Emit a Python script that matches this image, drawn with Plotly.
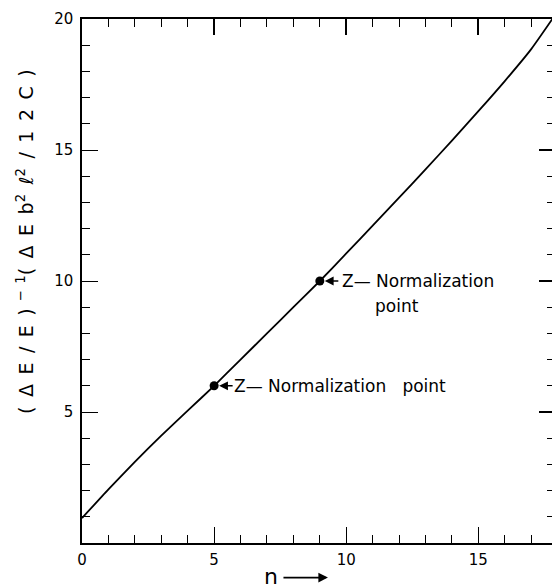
import plotly.graph_objects as go

# Curve data
n_vals = [0, 1, 2, 3, 4, 5, 6, 7, 8, 9, 10, 11, 12, 13, 14, 15, 16, 17, 17.8]
y_vals = [0.95, 2.05, 3.1, 4.1, 5.05, 6.0, 7.0, 8.0, 9.0, 10.0, 11.05, 12.11,
          13.18, 14.26, 15.36, 16.48, 17.63, 18.85, 20.0]

# Normalization points
norm_n = [5, 9]
norm_y = [6.0, 10.0]

x_ticks = [0, 5, 10, 15]
y_ticks = [5, 10, 15, 20]

FONT = "DejaVu Sans"
X_RANGE = [0, 17.9]
Y_RANGE = [0, 20]

fig = go.Figure()
fig.add_trace(go.Scatter(x=n_vals, y=y_vals, mode="lines",
                         line=dict(color="black", width=1.8, shape="spline", smoothing=0.5),
                         showlegend=False, hoverinfo="skip"))
fig.add_trace(go.Scatter(x=norm_n, y=norm_y, mode="markers",
                         marker=dict(color="black", size=9),
                         showlegend=False, hoverinfo="skip"))
# invisible traces to activate the mirrored (top/right) tick axes
fig.add_trace(go.Scatter(x=[None], y=[None], xaxis="x2", yaxis="y2", mode="markers",
                         showlegend=False, hoverinfo="skip"))
fig.add_trace(go.Scatter(x=[None], y=[None], xaxis="x3", yaxis="y3", mode="markers",
                         showlegend=False, hoverinfo="skip"))

minor_cfg = dict(dtick=1, tick0=0, ticks="inside", ticklen=8, tickwidth=1.3,
                 tickcolor="black")
main_common = dict(showgrid=False, zeroline=False, showline=True, linecolor="black",
                   linewidth=1.5, mirror=True, ticks="inside", ticklen=16,
                   tickwidth=1.3, tickcolor="black", minor=minor_cfg,
                   ticklabeloverflow="allow",
                   tickfont=dict(family=FONT, size=15, color="black"))
mirror_common = dict(showgrid=False, zeroline=False, showline=False, ticks="inside",
                     tickcolor="black", tickmode="linear", tick0=0,
                     tickfont=dict(family=FONT, size=1, color="rgba(0,0,0,0)"))

fig.update_layout(
    xaxis=dict(range=X_RANGE, tickvals=x_ticks, ticktext=[str(v) for v in x_ticks],
               ticklabelstandoff=2, **main_common),
    yaxis=dict(range=Y_RANGE, tickvals=y_ticks, ticktext=[str(v) for v in y_ticks],
               ticklabelstandoff=4, **main_common),
    # top / right: long ticks every 5
    xaxis2=dict(range=X_RANGE, dtick=5, ticklen=16, tickwidth=1.6,
                side="top", overlaying="x", **mirror_common),
    yaxis2=dict(range=Y_RANGE, dtick=5, ticklen=16, tickwidth=1.6,
                side="right", overlaying="y", **mirror_common),
    # top / right: short ticks every 1
    xaxis3=dict(range=X_RANGE, dtick=1, ticklen=8, tickwidth=1.3,
                side="top", overlaying="x", **mirror_common),
    yaxis3=dict(range=Y_RANGE, dtick=1, ticklen=8, tickwidth=1.3,
                side="right", overlaying="y", **mirror_common),
)

annotations = []
# arrows to normalization points
for nx, ny in zip(norm_n, norm_y):
    annotations.append(dict(x=nx, y=ny, xref="x", yref="y", ax=20, ay=0, text="",
                            showarrow=True, arrowhead=2, arrowsize=1.1, arrowwidth=1.6,
                            arrowcolor="black", standoff=5))
annotations.append(dict(x=5.68, y=6.0, xref="x", yref="y", xanchor="left", yanchor="middle",
                        text="Z\u2014 Normalization   point", showarrow=False,
                        font=dict(family=FONT, size=17, color="black")))
annotations.append(dict(x=9.78, y=10.0, xref="x", yref="y", xanchor="left", yanchor="middle",
                        text="Z\u2014 Normalization", showarrow=False,
                        font=dict(family=FONT, size=17, color="black")))
annotations.append(dict(x=11.0, y=9.05, xref="x", yref="y", xanchor="left", yanchor="middle",
                        text="point", showarrow=False,
                        font=dict(family=FONT, size=17, color="black")))
# y-axis label
sp = "\u2002"
ylab = (f"({sp}\u0394{sp}E{sp}/{sp}E{sp})<sup>{sp}\u2212{sp}1</sup>"
        f"({sp}\u0394{sp}E{sp}b<sup>2</sup>{sp}\u2113<sup>2</sup>"
        f"{sp}/{sp}1{sp}2{sp}C{sp})")
annotations.append(dict(x=-0.122, y=0.575, xref="paper", yref="paper",
                        xanchor="center", yanchor="middle", textangle=-90,
                        text=ylab, showarrow=False,
                        font=dict(family=FONT, size=19, color="black")))
# x-axis label
annotations.append(dict(x=0.40, y=-0.064, xref="paper", yref="paper",
                        xanchor="center", yanchor="middle", text="n",
                        showarrow=False, font=dict(family=FONT, size=22, color="black")))
annotations.append(dict(x=0.52, y=-0.066, xref="paper", yref="paper",
                        axref="pixel", ayref="pixel", ax=-46, ay=0, text="",
                        showarrow=True, arrowhead=2, arrowsize=1.2, arrowwidth=1.6,
                        arrowcolor="black"))

# The page body has an 8px margin, so the figure is 8px smaller and margins shifted.
fig.update_layout(width=552, height=580, autosize=False,
                  margin=dict(l=74, r=2, t=7, b=45),
                  plot_bgcolor="white", paper_bgcolor="white",
                  annotations=annotations)

fig.write_html("out.html")
